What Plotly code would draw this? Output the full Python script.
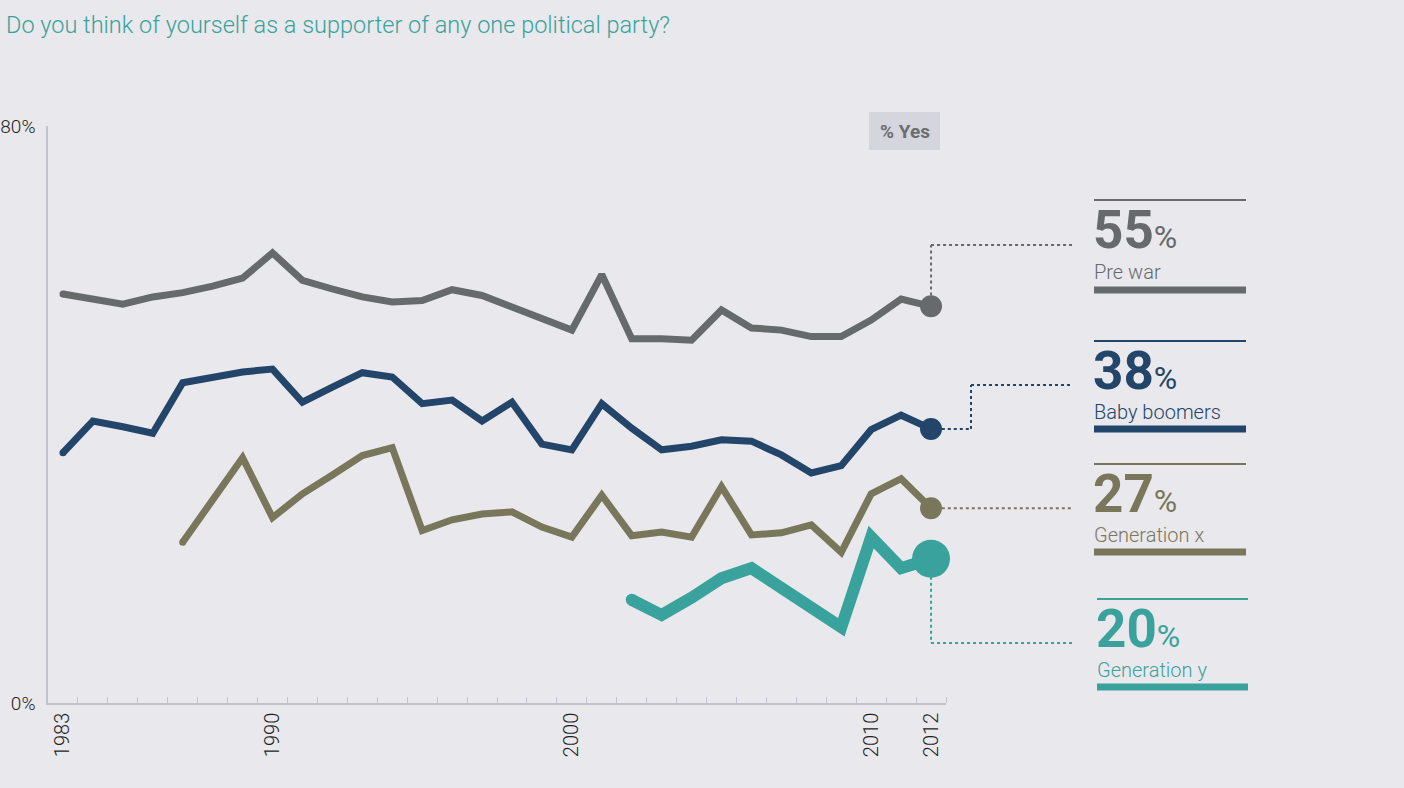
import plotly.graph_objects as go

# Survey years and share answering "yes" (%) for each generation
years = list(range(1983, 2013))

pre_war = [56.7, 56.0, 55.3, 56.3, 56.9, 57.8, 58.9, 62.4, 58.6, 57.4,
           56.3, 55.6, 55.8, 57.3, 56.5, 54.9, 53.4, 51.7, 59.4, 50.5,
           50.5, 50.3, 54.5, 52.0, 51.7, 50.8, 50.8, 53.1, 56.0, 55.0]

baby_boomers = [34.7, 39.1, 38.3, 37.4, 44.4, 45.2, 45.9, 46.3, 41.7, 43.8,
                45.8, 45.2, 41.5, 42.0, 39.1, 41.7, 35.9, 35.1, 41.5, 38.1,
                35.1, 35.6, 36.5, 36.3, 34.4, 31.9, 32.9, 37.9, 39.9, 38.0]

gen_x_years = list(range(1987, 2013))
gen_x = [22.3, 28.2, 34.0, 25.7, 29.0, 31.6, 34.3, 35.4, 23.9, 25.4,
         26.2, 26.5, 24.4, 23.0, 28.8, 23.2, 23.7, 23.0, 30.0, 23.3,
         23.6, 24.7, 20.9, 29.0, 31.1, 27.0]

gen_y_years = list(range(2002, 2013))
gen_y = [14.3, 12.2, 14.6, 17.3, 18.7, 15.9, 13.6, 10.5, 23.0, 18.7, 20.0]

series_names = ["Pre war", "Baby boomers", "Generation x", "Generation y"]
tick_years = [1983, 1990, 2000, 2010, 2012]

BG = "#e9e8ed"
AXIS = "#c3c2cf"
COLORS = ["#666a6a", "#234569", "#79775b", "#3aa29c"]
FONT = "Roboto"

W, H = 1404, 788
L, R, T, B = 48, 946, 126, 703   # plot area in pixels
X0, X1 = 1982.5, 2012.5
Y0, Y1 = 0, 80


def px(x):
    return (x - L) / (R - L)


def py(y):
    return (B - y) / (B - T)


def yval(y):
    return (B - y) / (B - T) * (Y1 - Y0) + Y0


def xpaper(year):
    return (year - X0) / (X1 - X0)


fig = go.Figure()

data = [
    (years, pre_war, 7, 22),
    (years, baby_boomers, 7, 22),
    (gen_x_years, gen_x, 7, 22),
    (gen_y_years, gen_y, 12, 38),
]

for (xs, ys, lw, ms), name, col in zip(data, series_names, COLORS):
    sizes = [lw] + [0] * (len(xs) - 2) + [ms]
    fig.add_trace(go.Scatter(
        x=xs, y=ys, name=name, mode="lines+markers",
        line=dict(color=col, width=lw),
        marker=dict(color=col, size=sizes, opacity=1, line=dict(width=0)),
        cliponaxis=False, hoverinfo="skip", showlegend=False,
    ))

shapes = []
annotations = []

# "% Yes" badge
shapes.append(dict(type="rect", xref="paper", yref="paper",
                   x0=px(869), x1=px(940), y0=py(150), y1=py(112),
                   fillcolor="#d5d5dd", line=dict(width=0), layer="below"))
annotations.append(dict(xref="paper", yref="paper", x=px(904.5), y=py(131),
                        text="<b>% Yes</b>", showarrow=False,
                        font=dict(family=FONT, size=19, color="#6b6e70"),
                        xanchor="center", yanchor="middle"))

# right-hand labels: (left x, right x, thin line y, number y, name y, bar y)
rows = [(1094, 1246, 200, 230, 272, 290), (1094, 1246, 341, 371, 412, 429),
        (1094, 1246, 464, 494, 535, 552), (1097, 1248, 599, 629, 670, 687)]
last_vals = [pre_war[-1], baby_boomers[-1], gen_x[-1], gen_y[-1]]

for (lx0, lx1, yl, yn, yt, yb), name, col, val in zip(rows, series_names, COLORS, last_vals):
    shapes.append(dict(type="line", xref="paper", yref="paper",
                       x0=px(lx0), x1=px(lx1), y0=py(yl), y1=py(yl),
                       line=dict(color=col, width=2)))
    shapes.append(dict(type="line", xref="paper", yref="paper",
                       x0=px(lx0), x1=px(lx1), y0=py(yb), y1=py(yb),
                       line=dict(color=col, width=7)))
    annotations.append(dict(
        xref="paper", yref="paper", x=px(lx0 - 3), y=py(yn),
        text=f"<b>{val:.0f}</b><span style='font-size:32px'>%</span>",
        showarrow=False, xanchor="left", yanchor="middle",
        font=dict(family=FONT, size=53, color=col)))
    annotations.append(dict(
        xref="paper", yref="paper", x=px(lx0 - 2), y=py(yt),
        text=name, showarrow=False, xanchor="left", yanchor="middle",
        font=dict(family=FONT, size=20, color=col, weight=300)))

# dotted leaders from each end point to its label
end_x = xpaper(2012)
dot = dict(width=2, dash="dot")
lead_end = px(1072)

# pre war: up, then right
shapes.append(dict(type="line", xref="paper", yref="y", x0=end_x, x1=end_x,
                   y0=pre_war[-1] + 1.5, y1=yval(245),
                   line=dict(color=COLORS[0], **dot)))
shapes.append(dict(type="line", xref="paper", yref="paper", x0=end_x, x1=lead_end,
                   y0=py(245), y1=py(245), line=dict(color=COLORS[0], **dot)))

# baby boomers: right, up, right
elbow = px(971)
shapes.append(dict(type="line", xref="paper", yref="y", x0=end_x + 0.012, x1=elbow,
                   y0=baby_boomers[-1], y1=baby_boomers[-1],
                   line=dict(color=COLORS[1], **dot)))
shapes.append(dict(type="line", xref="paper", yref="y", x0=elbow, x1=elbow,
                   y0=baby_boomers[-1], y1=yval(385),
                   line=dict(color=COLORS[1], **dot)))
shapes.append(dict(type="line", xref="paper", yref="paper", x0=elbow, x1=lead_end,
                   y0=py(385), y1=py(385), line=dict(color=COLORS[1], **dot)))

# generation x: straight across
shapes.append(dict(type="line", xref="paper", yref="y", x0=end_x + 0.012, x1=lead_end,
                   y0=gen_x[-1], y1=gen_x[-1], line=dict(color=COLORS[2], **dot)))

# generation y: down, then right
shapes.append(dict(type="line", xref="paper", yref="y", x0=end_x, x1=end_x,
                   y0=gen_y[-1] - 2.5, y1=yval(643),
                   line=dict(color=COLORS[3], **dot)))
shapes.append(dict(type="line", xref="paper", yref="paper", x0=end_x, x1=px(1074),
                   y0=py(643), y1=py(643), line=dict(color=COLORS[3], **dot)))

fig.update_layout(
    width=W, height=H,
    margin=dict(l=L, r=W - R, t=T, b=H - B, pad=0, autoexpand=False),
    paper_bgcolor=BG, plot_bgcolor=BG,
    title=dict(text="Do you think of yourself as a supporter of any one political party?",
               x=6 / W, xref="container", xanchor="left",
               y=1 - 25 / H, yref="container", yanchor="middle",
               font=dict(family=FONT, size=23.5, color="#3aa29c", weight=300)),
    xaxis=dict(range=[X0, X1], showgrid=False, zeroline=False,
               showline=True, linecolor=AXIS, linewidth=1.5,
               tickmode="array", tickvals=tick_years,
               ticktext=[str(y) for y in tick_years],
               ticks="", tickangle=-90,
               tickfont=dict(family=FONT, size=20, color="#1e1e1e", weight=300),
               minor=dict(tickmode="array",
                          tickvals=[y + 0.5 for y in years],
                          ticks="inside", ticklen=6, tickwidth=1.2,
                          tickcolor=AXIS, showgrid=False)),
    yaxis=dict(range=[Y0, Y1], showgrid=False, zeroline=False,
               showline=True, linecolor=AXIS, linewidth=1.5,
               tickmode="array", tickvals=[0, 80], ticktext=["0%", "80%"],
               ticks="", ticklabelstandoff=7,
               tickfont=dict(family=FONT, size=19, color="#1e1e1e", weight=300)),
    shapes=shapes,
    annotations=annotations,
)

fig.write_html("out.html")
